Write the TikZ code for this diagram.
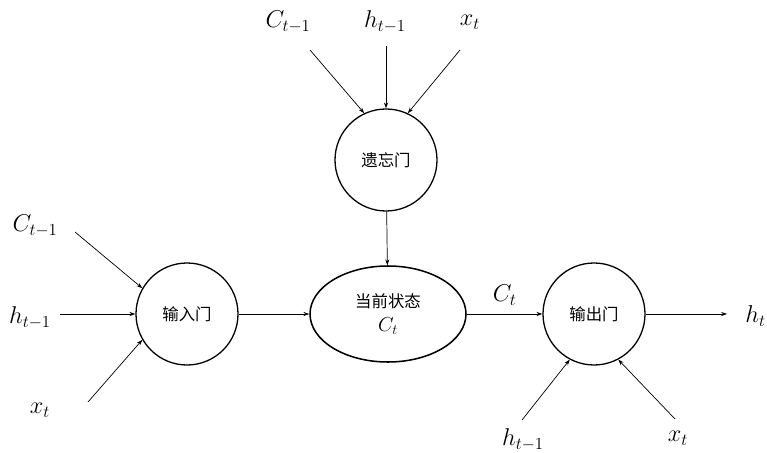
\documentclass[tikz,border=0pt]{standalone}
\usepackage{fontspec}
\newfontfamily\cjk{Noto Sans CJK SC}
\usetikzlibrary{arrows.meta,shapes.geometric}

\tikzset{
  gate/.style={draw, circle, line width=1.1pt, minimum size=3.06cm, inner sep=0pt, font=\cjk\fontsize{14}{16}\selectfont},
  state/.style={draw, ellipse, line width=1.3pt, minimum width=4.68cm, minimum height=2.88cm, inner sep=0pt, align=center, font=\cjk\fontsize{14}{20}\selectfont},
  lbl/.style={font=\fontsize{20}{22}\selectfont},
  flow/.style={-{Stealth[length=5pt,width=3.5pt]}, line width=0.6pt}
}

\begin{document}
\begin{tikzpicture}[x=0.03cm,y=-0.03cm]
\useasboundingbox (0,0) rectangle (767,452);
% gates and cell state
\node[gate] (forget) at (386,160) {遗忘门};
\node[gate] (input) at (187,314) {输入门};
\node[gate] (output) at (594,314) {输出门};
\node[state] (cell) at (388,314) {当前状态\\{\fontsize{18}{20}\selectfont$C_t$}};
% inputs of the forget gate
\node[lbl] (fc) at (288,22) {$C_{t-1}$};
\node[lbl] (fh) at (385,22) {$h_{t-1}$};
\node[lbl] (fx) at (470,22) {$x_t$};
\coordinate (fc0) at (310,50);
\coordinate (fh0) at (386,46);
\coordinate (fx0) at (460,50);
\draw[flow] (fc0) -- (forget.115);
\draw[flow] (fh0) -- (forget.90);
\draw[flow] (fx0) -- (forget.65);
% inputs of the input gate
\node[lbl] (ic) at (35,226) {$C_{t-1}$};
\node[lbl] (ih) at (30,318) {$h_{t-1}$};
\node[lbl] (ix) at (40,410) {$x_t$};
\coordinate (ic0) at (75,232);
\coordinate (ih0) at (60,314);
\coordinate (ix0) at (88,402);
\draw[flow] (ic0) -- (input.150);
\draw[flow] (ih0) -- (input.180);
\draw[flow] (ix0) -- (input.210);
% inputs of the output gate
\node[lbl] (oh) at (523,440) {$h_{t-1}$};
\node[lbl] (ox) at (678,438) {$x_t$};
\coordinate (oh0) at (522,420);
\coordinate (ox0) at (675,419);
\draw[flow] (oh0) -- (output.242);
\draw[flow] (ox0) -- (output.298);
% main flow
\draw[flow] (input) -- (cell);
\draw[flow] (forget) -- (cell);
\draw[flow] (cell) -- node[lbl, above=4pt] (ct) {$C_t$} (output);
\node[lbl, anchor=east, inner sep=1pt] (ht) at (767,316) {$h_t$};
\coordinate (ht0) at (727,314);
\draw[flow] (output) -- (ht0);
\end{tikzpicture}
\end{document}
